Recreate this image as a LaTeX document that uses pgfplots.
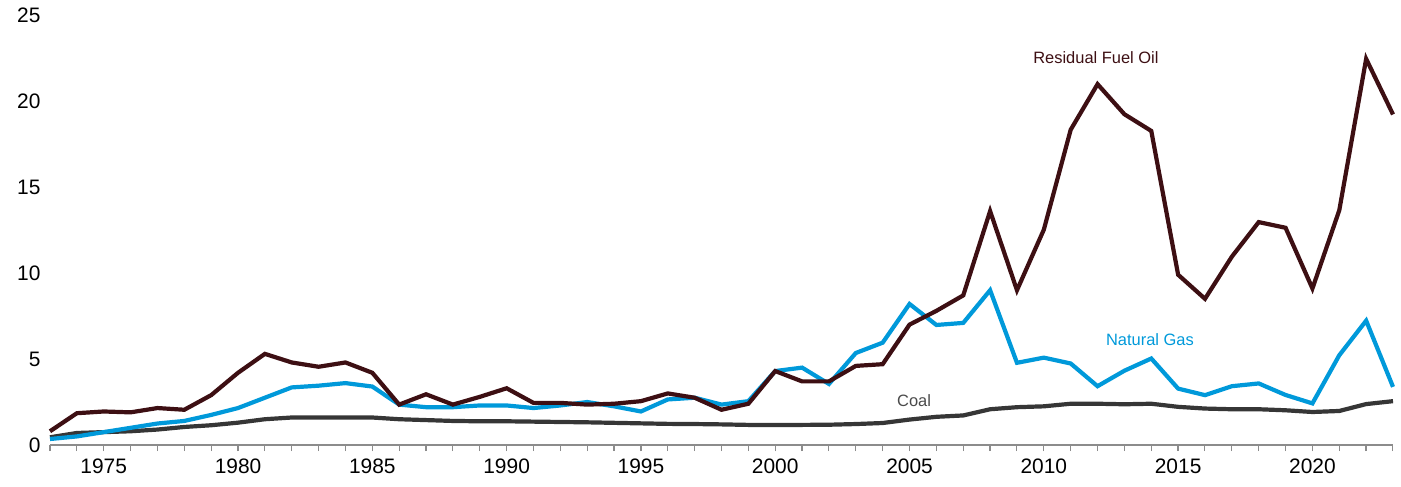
\documentclass[border=0pt]{standalone}
\usepackage{pgfplots}
\pgfplotsset{compat=1.18}
\usepackage{fontspec}
\setmainfont{Liberation Sans}

\definecolor{oilc}{HTML}{3D0F13}
\definecolor{gasc}{HTML}{0099DA}
\definecolor{coalc}{HTML}{363636}
\definecolor{axisc}{HTML}{8C8C8C}

\begin{document}
\begin{tikzpicture}
    \begin{axis}[
        name=main,
        scale only axis,
        width=1343bp, height=430bp,
        xmin=1973, xmax=2023,
        ymin=0, ymax=25,
        axis lines*=left,
        axis line style={axisc, line width=1.2bp},
        y axis line style={draw=none},
        xtick={1975,1980,...,2020},
        minor xtick={1973,...,2023},
        ytick={0,5,...,25},
        tick align=outside,
        major tick length=6bp, minor tick length=6bp,
        x tick style={axisc, line width=1.2bp},
        y tick style={draw=none},
        tick label style={font=\fontsize{21}{24}\selectfont},
        xticklabel style={yshift=-4bp},
        /pgf/number format/assume math mode=true,
        /pgf/number format/1000 sep={},
        clip=false,
    ]
        \addplot[coalc, line width=4.2bp] coordinates {
            (1973,0.45) (1974,0.70) (1975,0.75) (1976,0.80) (1977,0.90)
            (1978,1.05) (1979,1.15) (1980,1.30) (1981,1.50) (1982,1.60)
            (1983,1.60) (1984,1.60) (1985,1.60) (1986,1.50) (1987,1.45)
            (1988,1.40) (1989,1.38) (1990,1.38) (1991,1.36) (1992,1.34)
            (1993,1.32) (1994,1.29) (1995,1.26) (1996,1.23) (1997,1.22)
            (1998,1.20) (1999,1.17) (2000,1.17) (2001,1.17) (2002,1.18)
            (2003,1.22) (2004,1.28) (2005,1.48) (2006,1.64) (2007,1.72)
            (2008,2.08) (2009,2.20) (2010,2.25) (2011,2.40) (2012,2.40)
            (2013,2.37) (2014,2.40) (2015,2.22) (2016,2.12) (2017,2.08)
            (2018,2.08) (2019,2.02) (2020,1.92) (2021,1.98) (2022,2.38)
            (2023,2.55)
        };
        \addplot[gasc, line width=4.2bp] coordinates {
            (1973,0.35) (1974,0.50) (1975,0.75) (1976,1.00) (1977,1.25)
            (1978,1.40) (1979,1.75) (1980,2.15) (1981,2.75) (1982,3.35)
            (1983,3.45) (1984,3.60) (1985,3.40) (1986,2.35) (1987,2.20)
            (1988,2.20) (1989,2.30) (1990,2.30) (1991,2.15) (1992,2.30)
            (1993,2.50) (1994,2.25) (1995,1.95) (1996,2.65) (1997,2.75)
            (1998,2.35) (1999,2.55) (2000,4.30) (2001,4.50) (2002,3.55)
            (2003,5.35) (2004,5.95) (2005,8.20) (2006,6.98) (2007,7.10)
            (2008,9.00) (2009,4.78) (2010,5.08) (2011,4.74) (2012,3.42)
            (2013,4.32) (2014,5.03) (2015,3.28) (2016,2.90) (2017,3.42)
            (2018,3.58) (2019,2.91) (2020,2.42) (2021,5.22) (2022,7.23)
            (2023,3.38)
        };
        \addplot[oilc, line width=4.2bp] coordinates {
            (1973,0.80) (1974,1.85) (1975,1.95) (1976,1.90) (1977,2.15)
            (1978,2.05) (1979,2.90) (1980,4.20) (1981,5.30) (1982,4.80)
            (1983,4.55) (1984,4.80) (1985,4.20) (1986,2.35) (1987,2.95)
            (1988,2.35) (1989,2.80) (1990,3.30) (1991,2.45) (1992,2.45)
            (1993,2.35) (1994,2.40) (1995,2.55) (1996,3.00) (1997,2.75)
            (1998,2.05) (1999,2.40) (2000,4.30) (2001,3.70) (2002,3.70)
            (2003,4.60) (2004,4.70) (2005,7.00) (2006,7.80) (2007,8.70)
            (2008,13.60) (2009,9.00) (2010,12.52) (2011,18.33) (2012,20.98)
            (2013,19.23) (2014,18.26) (2015,9.90) (2016,8.50) (2017,10.95)
            (2018,12.96) (2019,12.63) (2020,9.10) (2021,13.65) (2022,22.45)
            (2023,19.22)
        };
        \node[text=oilc, font=\fontsize{16.5}{20}\selectfont] at (axis cs:2011.94,22.5) {Residual Fuel Oil};
        \node[text=gasc, font=\fontsize{16.5}{20}\selectfont] at (axis cs:2013.95,6.1) {Natural Gas};
        \node[text=coalc!90, font=\fontsize{16.5}{20}\selectfont] at (axis cs:2005.17,2.6) {Coal};
    \end{axis}
    \pgfresetboundingbox
    \path ([shift={(-50bp,-41bp)}]main.south west) rectangle ([shift={(8bp,15bp)}]main.north east);
\end{tikzpicture}
\end{document}
